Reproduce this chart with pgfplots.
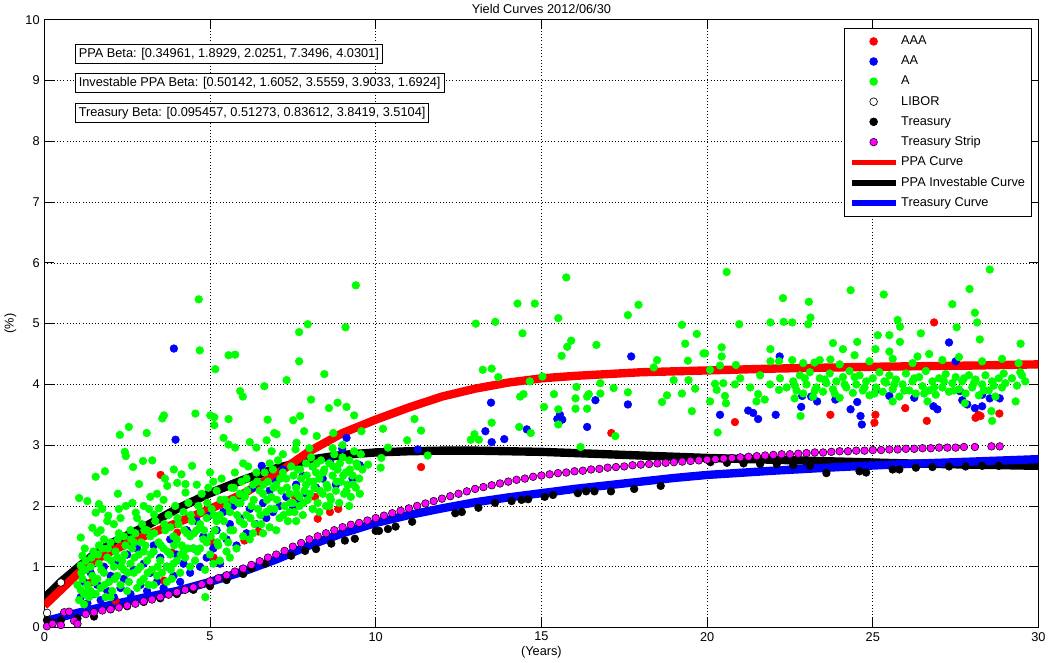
\documentclass[border=0pt]{standalone}
\usepackage{fontspec}
\setmainfont{Liberation Sans}
\usepackage{pgfplots}
\pgfplotsset{compat=1.18}
\definecolor{mred}{rgb}{1,0,0}
\definecolor{mgreen}{rgb}{0,1,0}
\definecolor{mblue}{rgb}{0,0,1}
\definecolor{mmag}{rgb}{1,0,1}
\newcommand{\ft}{\fontsize{9.6}{11}\selectfont}
\begin{document}
\begin{tikzpicture}
\begin{axis}[
  scale only axis, width=748.5pt, height=457.5pt,
  xmin=0, xmax=30, ymin=0, ymax=10,
  xtick={0,5,...,30}, ytick={0,1,...,10},
  tick align=inside, major tick length=7pt,
  grid=major, grid style={black, dotted, line width=0.5pt},
  axis line style={line width=0.6pt},
  tick style={line width=0.6pt, black},
  /pgf/number format/assume math mode=true,
  tick label style={font=\ft},
  title={Yield Curves 2012/06/30}, title style={font=\ft, yshift=-5pt},
  xlabel={(Years)}, ylabel={(\%)},
  label style={font=\ft},
  xlabel style={yshift=3pt}, ylabel style={yshift=0pt},
  legend cell align=left,
  legend style={at={(rel axis cs:0.9935,0.987)}, anchor=north east,
    draw=black, fill=white, font=\ft, row sep=3pt,
    inner xsep=3pt, inner ysep=4pt, line width=0.6pt},
  legend image code/.code={\draw[mark repeat=2,mark phase=2,#1]
    plot coordinates {(0pt,0pt) (16.5pt,0pt) (33pt,0pt)};},
]
% AAA
\addplot[only marks, mark=*, mark size=2.9pt, color=mred] coordinates {
(1.40,0.74)(2.15,0.44)(3.61,0.77)(3.51,2.51)(4.01,1.56)(3.86,1.23)(5.06,1.41)(5.11,1.15)
(6.04,1.43)(6.46,1.58)(7.56,2.16)(8.17,2.15)(8.62,1.90)(8.87,1.95)(8.25,1.79)(11.37,2.64)
(17.11,3.20)(20.84,3.38)(23.72,3.50)(25.08,3.50)(25.05,3.37)(25.98,3.61)(26.63,3.40)
(26.85,5.02)(28.10,3.45)(28.25,3.48)(28.18,3.50)(28.82,3.52)
};
\addlegendentry{AAA}
% AA
\addplot[only marks, mark=*, mark size=2.9pt, color=mblue] coordinates {
(1.1,0.5)(1.2,0.75)(1.3,0.4)(1.4,0.9)(1.5,0.55)(1.6,0.7)(1.7,0.45)(1.8,1.0)(1.9,0.6)
(2.0,0.85)(2.1,0.5)(2.2,1.1)(2.3,0.65)(2.4,0.8)(2.5,1.2)(2.6,0.55)(2.7,0.95)(2.8,1.3)
(2.9,0.7)(3.0,1.05)(3.1,0.6)(3.2,0.9)(3.3,1.35)(3.4,0.75)(3.5,1.15)(3.6,0.65)(3.7,1.0)
(3.8,1.45)(3.9,0.85)(4.0,1.2)(4.1,0.75)(4.2,1.05)(4.3,1.6)(4.4,0.9)(4.5,1.3)(4.6,1.75)
(4.7,1.0)(4.8,1.5)(4.9,1.15)(5.0,1.85)(5.1,1.3)(5.2,1.6)(5.3,1.05)(5.4,1.9)(5.5,1.45)
(5.6,1.7)(5.7,2.0)(5.8,1.35)(5.9,1.8)(6.0,2.15)(6.1,1.55)(6.2,1.95)(6.3,2.3)(6.4,1.7)
(6.56,2.66)(6.6,2.05)(6.7,1.8)(6.8,2.25)(6.9,1.9)(7.0,2.4)(7.1,2.0)(7.2,2.6)(7.3,2.15)
(7.5,1.95)(7.6,2.35)(7.7,2.1)(7.8,2.5)(7.9,2.2)(8.1,2.65)(8.2,2.3)(8.4,2.45)(8.62,2.72)
(8.8,2.35)(8.99,2.94)(9.12,3.12)(9.3,2.45)(9.52,2.67)(3.91,4.59)(3.96,3.09)
(11.27,2.93)(13.31,3.23)(13.5,3.05)(13.88,3.10)(14.56,3.26)(13.48,3.70)(15.56,3.50)
(15.63,3.42)(15.48,3.43)(16.38,3.30)(16.63,3.74)(17.61,3.67)(17.71,4.46)(20.39,3.50)
(21.24,3.57)(21.39,3.53)(21.54,3.43)(22.07,3.50)(22.84,3.63)(24.33,3.59)(24.63,3.48)
(24.67,3.34)(22.87,3.81)(23.14,3.80)(23.32,3.72)(23.87,3.75)(24.53,3.71)(25.10,3.91)
(25.50,3.81)(26.25,3.78)(26.83,3.64)(26.95,3.59)(27.63,3.89)(27.70,3.74)(27.85,3.67)
(28.08,3.61)(28.30,3.64)(28.30,3.83)(28.53,3.77)(28.83,3.77)(22.19,4.46)(27.30,4.69)
(27.50,4.38)
};
\addlegendentry{AA}
% A
\addplot[only marks, mark=*, mark size=2.9pt, color=mgreen] coordinates {
(1.05,0.45)(1.1,0.62)(1.15,0.8)(1.2,0.55)(1.25,0.95)(1.3,0.7)(1.35,0.5)(1.4,1.0)(1.45,0.85)
(1.1,1.02)(1.15,1.18)(1.25,1.10)(1.05,2.13)(1.3,2.08)(1.1,1.48)(1.45,1.64)(1.2,0.38)
(1.4,0.6)(1.48,1.25)(1.0,0.7)
(1.55,2.48)(1.83,2.57)(1.65,2.03)(1.55,1.89)(1.75,1.95)(1.93,1.84)(1.6,1.56)(2.22,2.20)
(2.25,1.95)(2.46,2.0)(2.28,3.17)(2.43,2.89)(2.46,2.82)
(1.55,0.55)(1.6,0.8)(1.65,1.05)(1.7,0.65)(1.75,1.3)(1.8,0.9)(1.85,0.5)(1.9,1.15)(1.95,0.75)
(2.0,1.4)(2.05,0.6)(2.1,1.0)(2.15,1.25)(2.2,0.85)(2.25,1.55)(2.3,0.7)(2.35,1.1)(2.4,0.95)
(2.45,1.35)(2.5,0.6)(1.7,1.6)(1.9,1.75)(2.1,1.7)(2.3,1.8)(2.4,1.5)(1.65,1.35)(2.0,0.5)
(2.2,1.15)(1.8,1.45)
(2.55,3.30)(2.68,2.64)(2.86,2.36)(2.98,2.74)(3.09,3.20)(3.26,2.75)(2.66,2.05)(2.76,1.89)
(3.16,1.95)(3.31,1.86)(3.46,1.96)
(2.55,0.75)(2.6,1.05)(2.65,1.3)(2.7,0.9)(2.75,1.55)(2.8,0.65)(2.85,1.2)(2.9,1.0)(2.95,1.7)
(3.0,0.8)(3.05,1.35)(3.1,1.1)(3.15,0.7)(3.2,1.5)(3.25,0.95)(3.3,1.25)(3.35,1.75)(3.4,0.85)
(3.45,1.4)(3.5,1.1)(2.6,1.6)(2.8,1.8)(3.0,2.0)(3.2,2.15)(3.4,2.2)(2.7,1.4)(2.9,0.75)
(3.1,1.6)(3.3,0.7)(3.0,1.25)
(3.61,3.49)(3.56,3.44)(3.91,2.60)(4.14,2.52)(4.46,2.66)(3.64,2.45)(3.71,2.33)(4.01,2.38)
(4.26,2.36)(4.26,2.22)(4.56,3.52)
(3.55,0.9)(3.6,1.3)(3.65,1.6)(3.7,1.0)(3.75,1.85)(3.8,1.2)(3.85,0.8)(3.9,1.5)(3.95,2.0)
(4.0,1.1)(4.05,1.7)(4.1,0.9)(4.15,1.35)(4.2,1.9)(4.25,1.15)(4.3,1.55)(4.35,2.05)(4.4,1.0)
(4.45,1.75)(4.5,1.3)(3.6,2.1)(3.8,1.65)(4.0,1.45)(4.2,1.25)(4.4,1.5)(3.7,0.75)(3.9,1.05)
(4.66,5.40)(4.69,4.56)(5.16,4.25)(5.01,3.49)(5.13,3.46)(5.13,3.33)(4.86,0.50)
(4.55,1.1)(4.6,1.6)(4.65,2.0)(4.7,1.3)(4.75,2.2)(4.8,1.45)(4.85,0.95)(4.9,1.8)(4.95,2.3)
(5.0,1.2)(5.05,1.95)(5.1,1.05)(5.15,1.6)(5.2,2.25)(5.25,1.35)(5.3,1.85)(5.35,2.45)(5.4,1.5)
(5.45,2.1)(5.5,1.25)(4.7,1.7)(4.9,1.4)(5.1,2.4)(5.3,1.1)(4.6,2.35)(5.2,1.75)(5.0,2.55)
(5.56,4.48)(5.76,4.49)(5.91,3.89)(5.99,3.80)(5.41,3.12)(5.56,3.01)(5.76,2.96)(6.2,3.05)
(6.4,2.96)(5.56,3.43)
(5.55,1.4)(5.6,1.9)(5.65,2.3)(5.7,1.6)(5.75,2.55)(5.8,1.3)(5.85,2.05)(5.9,1.75)(5.95,2.4)
(6.0,1.5)(6.05,2.15)(6.1,1.85)(6.15,2.65)(6.2,1.45)(6.25,2.0)(6.3,2.35)(6.35,1.7)(6.4,2.55)
(6.45,1.95)(6.5,2.25)(5.7,2.1)(5.9,2.2)(6.1,2.45)(6.3,1.55)(5.6,1.15)(6.0,2.7)
(6.64,3.97)(6.74,3.42)(6.94,3.20)(7.01,3.18)(6.71,3.08)(6.86,2.90)(7.31,4.07)(7.51,3.41)
(6.55,1.7)(6.6,2.2)(6.65,2.55)(6.7,1.9)(6.75,2.4)(6.8,1.65)(6.85,2.15)(6.9,2.6)(6.95,1.95)
(7.0,2.35)(7.05,2.75)(7.1,1.8)(7.15,2.25)(7.2,2.55)(7.25,2.0)(7.3,2.45)(7.35,1.75)(7.4,2.2)
(7.45,2.65)(7.5,2.05)(6.6,1.55)(6.8,2.7)(7.0,1.6)(7.2,2.85)(7.4,1.9)
(7.69,4.86)(7.69,4.38)(7.95,4.99)(7.72,3.48)(7.84,3.23)(8.22,3.15)(7.61,3.04)(7.58,2.93)
(8.05,3.75)(8.45,4.17)
(7.55,1.9)(7.6,2.3)(7.65,2.6)(7.7,2.0)(7.75,2.45)(7.8,1.85)(7.85,2.25)(7.9,2.7)(7.95,2.1)
(8.0,2.4)(8.05,2.8)(8.1,1.95)(8.15,2.3)(8.2,2.55)(8.25,2.05)(8.3,2.45)(8.35,2.75)(8.4,2.2)
(8.45,2.6)(8.5,2.0)(7.7,2.15)(7.9,2.35)(8.1,2.65)(8.3,1.9)(7.6,1.75)(8.0,2.95)
(8.59,3.61)(8.72,3.20)(8.85,3.70)(9.09,4.94)(9.12,3.63)(9.35,3.49)(9.40,5.63)(9.57,3.23)
(8.55,2.3)(8.6,2.7)(8.65,2.1)(8.7,2.5)(8.75,2.85)(8.8,2.25)(8.85,2.6)(8.9,2.05)(8.95,2.4)
(9.0,2.8)(9.05,2.2)(9.1,2.55)(9.15,2.35)(9.2,2.75)(9.25,2.15)(9.3,2.5)(9.35,2.9)(9.4,2.3)
(9.45,2.65)(9.5,2.45)(8.7,2.95)(9.0,3.0)(9.2,2.0)(9.55,2.85)(8.6,2.0)(9.6,2.6)
(1.12,0.9)(1.22,1.3)(1.32,0.6)(1.42,1.15)(1.52,0.75)(1.62,1.2)(1.72,0.95)(1.82,0.7)
(1.92,1.3)(2.02,1.1)(2.12,0.8)(2.22,1.45)(2.32,1.0)(2.42,1.2)(2.52,0.9)(2.62,1.45)
(2.72,1.15)(2.82,0.95)(2.92,1.4)(3.02,1.6)(3.12,0.9)(3.22,1.2)(3.32,1.55)(3.42,1.0)
(3.52,1.35)(3.62,1.7)(3.72,1.25)(3.82,0.95)(3.92,1.35)(4.02,1.8)(4.12,1.2)(4.22,1.6)
(4.32,1.3)(4.42,1.85)(4.52,1.55)(4.62,1.25)(4.72,1.9)(4.82,1.6)(4.92,2.05)(5.02,1.5)
(5.12,1.85)(5.22,1.4)(5.32,2.1)(5.42,1.75)(5.52,2.0)(5.62,1.6)(5.72,2.3)(5.82,1.85)
(5.92,2.05)(6.02,1.7)(6.12,2.25)(6.22,1.8)(6.32,2.1)(6.42,2.4)(6.52,1.85)(6.62,2.35)
(6.72,2.1)(6.82,1.95)(6.92,2.3)(7.02,2.1)(7.12,2.45)(7.22,1.85)(7.32,2.3)(7.42,2.05)
(7.52,2.5)(7.62,2.2)(7.72,2.6)(7.82,2.05)(7.92,2.5)(8.02,2.2)(8.12,2.4)(8.22,2.7)
(8.32,2.25)(8.42,2.55)(8.52,2.35)(8.62,2.15)(8.72,2.65)(8.82,2.4)(8.92,2.7)(9.02,2.5)
(9.12,2.25)(9.22,2.6)(9.32,2.35)(9.42,2.7)(9.52,2.2)
(10.22,3.27)(10.17,2.79)(10.15,2.63)(10.37,2.96)(9.77,2.68)(11.17,3.43)(11.37,3.24)
(10.95,3.08)(11.57,2.83)(12.87,3.09)(12.98,3.18)(13.11,3.09)(13.50,3.37)(13.02,5.0)
(13.61,5.03)(14.28,5.33)(14.80,5.33)(14.43,4.84)(15.51,5.09)(15.75,5.76)(13.23,4.24)
(13.5,4.26)(13.7,4.12)(14.36,3.80)(14.46,3.84)(14.65,4.05)(14.33,3.30)(14.68,3.20)
(15.03,4.13)(15.08,3.63)(15.38,3.84)(15.51,3.59)(15.51,3.34)(15.61,4.47)(15.78,4.62)
(15.9,4.72)(16.03,3.77)(16.03,3.60)(16.06,3.96)(16.18,2.97)(16.38,3.60)(16.38,3.80)
(16.43,3.84)(16.66,4.65)(16.78,4.02)(16.78,3.85)(17.18,3.94)(17.23,3.15)(17.61,3.87)
(17.61,5.14)(17.93,5.31)(18.39,4.28)(18.49,4.40)(18.64,3.71)(18.79,3.82)(18.99,4.07)
(19.24,3.85)(19.24,4.98)(19.34,4.67)(19.42,4.39)(19.44,4.07)(19.54,3.56)(19.64,3.93)
(19.69,4.83)(19.94,4.51)
(20.59,5.85)(24.33,5.55)(25.33,5.48)(28.53,5.89)(27.92,5.57)(27.40,5.32)(28.08,5.18)
(28.15,5.02)(27.53,4.94)(28.23,4.74)(29.46,4.67)(22.29,5.42)(23.07,5.36)(23.12,5.10)
(23.05,4.99)(21.91,5.02)(22.31,5.03)(22.57,5.02)(20.97,4.99)(25.75,5.06)(25.82,4.95)
(25.50,4.81)(25.15,4.81)(26.45,4.84)(25.82,4.70)(25.08,4.58)(25.50,4.54)(26.70,4.50)
(26.35,4.46)(24.53,4.70)(24.10,4.58)(23.80,4.68)(24.45,4.48)(23.72,4.41)(23.24,4.36)
(22.57,4.40)(21.91,4.58)(21.91,4.38)(20.44,4.61)(20.44,4.46)(19.89,4.51)
(20.39,4.31)(20.87,4.32)(20.09,4.24)(20.84,4.0)(20.49,4.02)(20.24,4.01)(20.29,3.91)
(20.54,3.81)(20.57,3.69)(20.09,3.72)(20.32,3.21)(21.49,3.72)(21.54,3.84)(21.74,3.75)
(22.17,3.91)(22.82,3.48)(28.58,3.56)(28.60,3.40)(29.31,3.72)(25.60,3.72)(26.65,3.72)
(22.64,3.77)(27.78,3.69)(22.17,4.38)
(21.0,4.1)(21.3,3.95)(21.6,4.15)(21.9,4.0)(22.2,4.1)(22.4,3.95)
(22.6,4.05)(22.7,3.9)(22.8,4.15)(22.9,3.85)(23.0,4.0)(23.1,4.2)(23.2,3.8)(23.3,3.95)
(23.4,4.1)(23.5,3.88)(23.6,4.02)(23.7,4.18)(23.8,3.92)(23.9,4.05)(24.0,3.78)(24.1,4.12)
(24.2,3.95)(24.3,4.22)(24.4,3.86)(24.5,4.0)(24.6,4.15)(24.7,3.9)(24.8,4.05)(24.9,3.82)
(25.0,4.1)(25.1,3.95)(25.2,4.2)(25.3,3.88)(25.4,4.03)(25.5,4.15)(25.6,3.92)(25.7,4.08)
(25.8,3.8)(25.9,4.0)(26.0,4.18)(26.1,3.9)(26.2,4.05)(26.3,3.85)(26.4,4.12)(26.5,3.97)
(26.6,4.22)(26.7,3.9)(26.8,4.05)(26.9,3.83)(27.0,4.1)(27.1,3.95)(27.2,4.17)(27.3,3.88)
(27.4,4.02)(27.5,4.12)(27.6,3.92)(27.7,4.05)(27.8,3.85)(27.9,4.15)(28.0,3.95)(28.1,4.08)
(28.2,3.82)(28.3,4.0)(28.4,4.15)(28.5,3.9)(28.6,4.05)(28.7,3.8)(28.8,4.1)(28.9,3.95)
(29.0,4.02)(29.2,4.1)(29.35,3.98)(29.5,4.15)(29.6,4.05)(29.45,4.2)
(22.65,3.98)(22.95,4.1)(23.25,3.9)(23.55,4.08)(23.85,3.85)(24.15,4.0)(24.45,4.12)
(24.75,3.95)(25.05,3.85)(25.35,4.05)(25.65,4.0)(25.95,3.9)(26.25,4.1)(26.55,3.85)
(26.85,3.95)(27.15,4.05)(27.45,3.9)(27.75,4.1)(28.05,4.02)(28.35,3.9)(28.65,3.98)
(28.95,4.18)
(22.9,4.35)(23.4,4.4)(24.0,4.33)(24.9,4.38)(25.6,4.42)(26.2,4.35)(27.1,4.4)(27.6,4.45)
(28.3,4.38)(28.9,4.42)(29.4,4.35)
};
\addlegendentry{A}
% LIBOR
\addplot[only marks, mark=*, mark size=2.9pt, color=black, mark options={fill=white, line width=0.5pt}] coordinates {
(0.083,0.24)(0.5,0.74)
};
\addlegendentry{LIBOR}
% Treasury
\addplot[only marks, mark=*, mark size=2.9pt, color=black] coordinates {
(0.08,0.12)(0.25,0.08)(0.5,0.12)(1.0,0.15)(1.5,0.18)(2.0,0.3)(2.5,0.35)(3.0,0.42)(3.5,0.48)
(4.0,0.55)(4.5,0.62)(5.0,0.68)(5.5,0.78)(6.0,0.88)(6.25,0.97)(6.67,1.05)(7.45,1.18)
(7.87,1.26)(8.2,1.29)(8.66,1.38)(9.07,1.43)(9.37,1.46)(10.0,1.59)(10.1,1.59)(10.37,1.62)
(10.6,1.66)(11.1,1.74)(12.4,1.88)(12.6,1.9)(13.1,1.97)(13.6,2.05)(14.1,2.08)(14.4,2.1)
(14.6,2.11)(15.1,2.15)(15.35,2.18)(16.1,2.21)(16.35,2.24)(16.6,2.24)(17.1,2.24)(17.8,2.28)
(18.6,2.33)(20.1,2.72)(20.6,2.71)(21.1,2.7)(21.6,2.69)(22.1,2.69)(22.6,2.67)(23.1,2.66)
(23.6,2.54)(24.6,2.57)(24.8,2.55)(25.6,2.6)(25.8,2.6)(26.3,2.63)(26.8,2.64)(27.3,2.65)
(27.8,2.65)(28.3,2.66)(28.8,2.66)
};
\addlegendentry{Treasury}
% Treasury Strip
\addplot[only marks, mark=*, mark size=2.9pt, color=black, mark options={fill=mmag, line width=0.4pt}] coordinates {
(0.08,0.02)(0.25,0.06)(0.5,0.04)(0.6,0.25)(0.75,0.26)(0.9,0.11)(1.0,0.06)
(1.25,0.22)(1.5,0.25)(1.75,0.28)(2,0.3)(2.25,0.33)(2.5,0.36)(2.75,0.39)(3,0.43)(3.25,0.46)
(3.5,0.5)(3.75,0.54)(4,0.58)(4.25,0.62)(4.5,0.66)(4.75,0.71)(5,0.76)(5.25,0.81)(5.5,0.86)
(5.75,0.92)(6,0.97)(6.25,1.03)(6.5,1.09)(6.75,1.15)(7,1.2)(7.25,1.26)(7.5,1.33)(7.75,1.39)
(8,1.45)(8.25,1.5)(8.5,1.55)(8.75,1.6)(9,1.65)(9.25,1.69)(9.5,1.72)(9.75,1.76)(10,1.8)
(10.25,1.84)(10.5,1.88)(10.75,1.92)(11,1.96)(11.25,2.0)(11.5,2.04)(11.75,2.08)(12,2.12)
(12.25,2.16)(12.5,2.2)(12.75,2.24)(13,2.28)(13.25,2.31)(13.5,2.34)(13.75,2.37)(14,2.4)
(14.25,2.43)(14.5,2.45)(14.75,2.48)(15,2.5)(15.25,2.52)(15.5,2.54)(15.75,2.55)(16,2.57)
(16.25,2.58)(16.5,2.6)(16.75,2.61)(17,2.63)(17.25,2.64)(17.5,2.65)(17.75,2.67)(18,2.68)
(18.25,2.69)(18.5,2.7)(18.75,2.71)(19,2.72)(19.25,2.73)(19.5,2.74)(19.75,2.75)(20,2.76)
(20.25,2.77)(20.5,2.78)(20.75,2.79)(21,2.8)(21.25,2.81)(21.5,2.82)(21.75,2.83)(22,2.84)
(22.25,2.85)(22.5,2.85)(22.75,2.86)(23,2.87)(23.25,2.88)(23.5,2.88)(23.75,2.89)(24,2.9)
(24.25,2.9)(24.5,2.91)(24.75,2.91)(25,2.92)(25.25,2.92)(25.5,2.93)(25.75,2.93)(26,2.94)
(26.25,2.94)(26.5,2.95)(26.75,2.95)(27,2.96)(27.25,2.96)(27.5,2.96)(27.75,2.97)(28.08,2.97)
(28.58,2.98)(28.83,2.98)
};
\addlegendentry{Treasury Strip}
\addlegendimage{mred, line width=4.5pt}
\addlegendentry{PPA Curve}
\addlegendimage{black, line width=4.5pt}
\addlegendentry{PPA Investable Curve}
\addlegendimage{mblue, line width=4.5pt}
\addlegendentry{Treasury Curve}
% PPA Investable Curve
\addplot[black, line width=6.3pt, forget plot] coordinates {
(0,0.48)(0.5,0.75)(1,0.98)(1.5,1.2)(2,1.38)(3,1.65)(4,1.95)(5,2.21)(6,2.43)(7,2.62)(8,2.76)
(9,2.84)(10,2.88)(11,2.9)(12,2.91)(13,2.91)(14,2.9)(15,2.89)(16,2.87)(17,2.85)(18,2.83)
(20,2.79)(22,2.76)(24,2.73)(26,2.7)(28,2.68)(30,2.66)
};
% PPA Curve
\addplot[mred, line width=6.3pt, forget plot] coordinates {
(0,0.36)(0.5,0.62)(1,0.88)(1.5,1.1)(2,1.25)(2.5,1.38)(3,1.5)(4,1.72)(5,1.95)(6,2.2)
(7,2.52)(8,2.9)(9,3.2)(10,3.42)(11,3.62)(12,3.8)(13,3.93)(14,4.03)(15,4.1)(16,4.14)
(17,4.17)(18,4.2)(20,4.23)(22,4.26)(25,4.29)(28,4.31)(30,4.33)
};
% Treasury Curve
\addplot[mblue, line width=6.3pt, forget plot] coordinates {
(0,0.1)(1,0.24)(2,0.37)(3,0.49)(4,0.6)(5,0.75)(6,0.92)(7,1.12)(8,1.35)(9,1.55)(10,1.72)
(11,1.85)(12,1.96)(13,2.06)(14,2.14)(15,2.21)(16,2.28)(17,2.34)(18,2.4)(19,2.46)(20,2.51)
(22,2.58)(24,2.64)(26,2.69)(28,2.73)(30,2.77)
};
\node[draw=black, fill=white, anchor=west, font=\ft, inner sep=2.5pt, line width=0.5pt]
  at (axis cs:0.93,9.44) {PPA Beta: [0.34961, 1.8929, 2.0251, 7.3496, 4.0301]};
\node[draw=black, fill=white, anchor=west, font=\ft, inner sep=2.5pt, line width=0.5pt]
  at (axis cs:0.93,8.96) {Investable PPA Beta: [0.50142, 1.6052, 3.5559, 3.9033, 1.6924]};
\node[draw=black, fill=white, anchor=west, font=\ft, inner sep=2.5pt, line width=0.5pt]
  at (axis cs:0.93,8.47) {Treasury Beta: [0.095457, 0.51273, 0.83612, 3.8419, 3.5104]};
\end{axis}
\end{tikzpicture}
\end{document}
